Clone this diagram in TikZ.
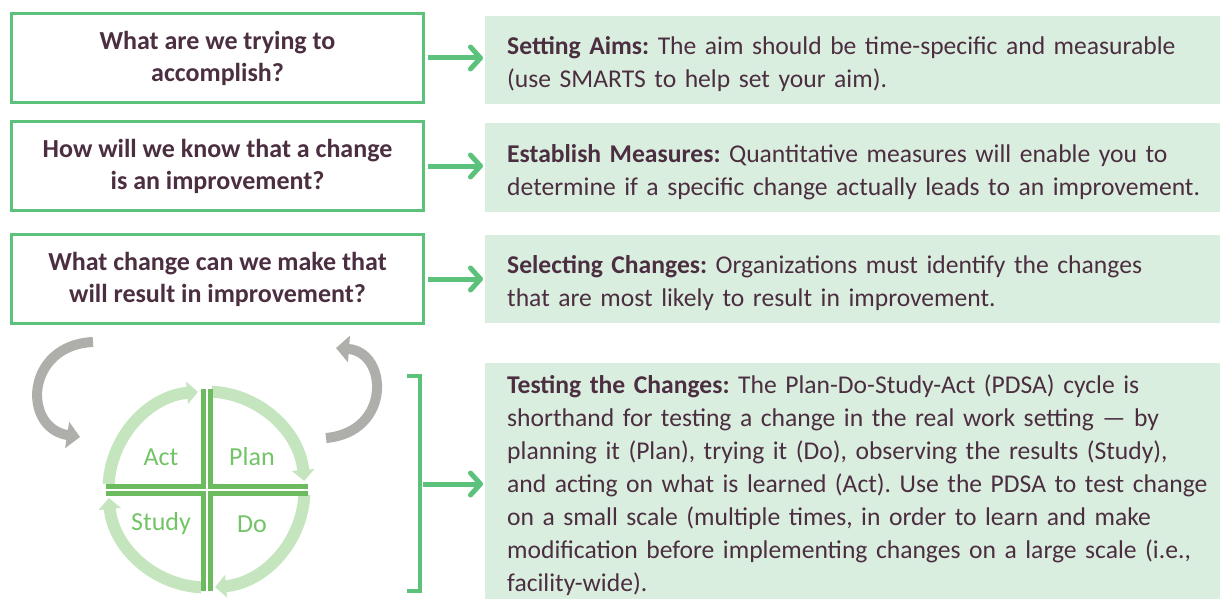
\documentclass[tikz,border=0pt]{standalone}
\usepackage{fontspec}
\setmainfont{Carlito}
\usetikzlibrary{arrows.meta,calc}

\definecolor{boxgreen}{HTML}{5CC17A}
\definecolor{boxfill}{HTML}{DAEEE0}
\definecolor{plum}{HTML}{4B2E40}
\definecolor{ringgreen}{HTML}{C4E5BE}
\definecolor{crossgreen}{HTML}{6CBB5E}
\definecolor{labelgreen}{HTML}{72C466}
\definecolor{swirl}{HTML}{AEAFAA}

\tikzset{
  question/.style={draw=boxgreen, line width=3pt, fill=white, text=plum,
    font=\bfseries\fontsize{26}{32}\selectfont, align=center,
    minimum width=412pt, minimum height=89pt, inner sep=0pt, anchor=north west},
  answer/.style={fill=boxfill, text=plum, font=\fontsize{25.6}{33}\selectfont,
    align=left, text width=710pt, inner xsep=22pt, inner ysep=0pt, anchor=north west,
    execute at begin node={\rule{0pt}{26pt}}},
  flow/.style={boxgreen, line width=5pt, shorten <=3pt, shorten >=2pt,
    -{Straight Barb[round,length=10pt,width=22pt]}},
  ring/.style={ringgreen, line width=12pt, -{Triangle[length=11pt,width=22pt]}},
  cross/.style={crossgreen, line width=5pt},
  cyclabel/.style={text=labelgreen, font=\fontsize{26}{30}\selectfont},
  swirlarrow/.style={swirl, line width=10pt, -{Triangle[length=13pt,width=26pt]}},
}

\begin{document}
\frenchspacing
\begin{tikzpicture}[x=1pt,y=-1pt]
\useasboundingbox (0,0) rectangle (1220,599);

% questions
\node[question] (q1) at (10,12) {What are we trying to\\accomplish?};
\node[question] (q2) at (10,120) {How will we know that a change\\is an improvement?};
\node[question] (q3) at (10,233) {What change can we make that\\will result in improvement?};

% answers
\node[answer, minimum height=88pt] (a1) at (485,16)
  {\textbf{Setting Aims:} The aim should be time-specific and measurable\\
   (use SMARTS to help set your aim).};
\node[answer, minimum height=89pt] (a2) at (485,123)
  {\textbf{Establish Measures:} Quantitative measures will enable you to\\
   determine if a specific change actually leads to an improvement.};
\node[answer, minimum height=88pt] (a3) at (485,235)
  {\textbf{Selecting Changes:} Organizations must identify the changes\\
   that are most likely to result in improvement.};
\node[answer, minimum height=236pt] (a4) at (485,363)
  {\textbf{Testing the Changes:} The Plan-Do-Study-Act (PDSA) cycle is\\
   shorthand for testing a change in the real work setting --- by\\
   planning it (Plan), trying it (Do), observing the results (Study),\\
   and acting on what is learned (Act). Use the PDSA to test change\\
   on a small scale (multiple times, in order to learn and make\\
   modification before implementing changes on a large scale (i.e.,\\
   facility-wide).};

\draw[flow] (q1.east) -- (a1.west |- q1.east);
\draw[flow] (q2.east) -- (a2.west |- q2.east);
\draw[flow] (q3.east) -- (a3.west |- q3.east);

% bracket
\coordinate (btop) at (420,376);
\coordinate (bbot) at (420,591);
\coordinate (bmid) at (420,484);
\draw[boxgreen, line width=4pt] ($(btop)+(-13,0)$) -- (btop) -- (bbot) -- ($(bbot)+(-13,0)$);
\draw[flow] (bmid) -- (a4.west |- bmid);

% PDSA cycle
\coordinate (c) at (206.5,489.5);
\foreach \a in {0,90,180,270}
  \draw[ring] ($(c)+(\a+3:98)$) arc[start angle=\a+3, end angle=\a+85, radius=98];
\foreach \sx/\sy in {-1/-1,1/-1,1/1,-1/1}
  \draw[cross] ($(c)+(3.5*\sx,101*\sy)$) -- ($(c)+(3.5*\sx,3.5*\sy)$) -- ($(c)+(101*\sx,3.5*\sy)$);
\node[cyclabel] (act) at (161,457) {Act};
\node[cyclabel] (plan) at (252,457) {Plan};
\node[cyclabel] (study) at (161,524) {Study};
\node[cyclabel] (do) at (252,524) {Do};

\draw[swirlarrow] (93,342) .. controls (25,345) and (22,428) .. (80,437);
\draw[swirlarrow] (326,438) .. controls (392,432) and (388,352) .. (336,348);
\end{tikzpicture}
\end{document}
